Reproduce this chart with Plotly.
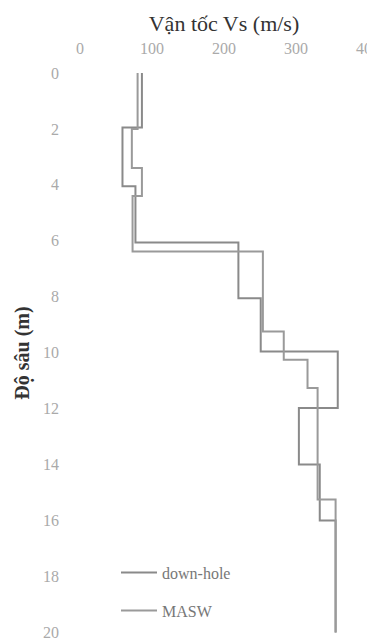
import numpy as np
import plotly.graph_objects as go

# Layer boundaries (depth, m) and shear-wave velocities (m/s)
dh_depth = [0, 1.95, 4.05, 6.06, 8.05, 9.96, 11.98, 14.0, 16.0, 20]
dh_vs = [86, 59, 77, 220, 251, 358, 304, 333, 355]

masw_depth = [0, 2.0, 3.4, 4.4, 6.38, 9.24, 10.25, 11.26, 15.25, 20]
masw_vs = [80, 72, 86, 73, 254, 283, 316, 330, 355]

x_ticks = [0, 100, 200, 300, 400]
y_ticks = [0, 2, 4, 6, 8, 10, 12, 14, 16, 18, 20]


def step_profile(depths, vs):
    x = list(vs) + [vs[-1]]
    y = list(depths[:-1]) + [depths[-1]]
    return x, y


fig = go.Figure()
for name, d, v, col in [("down-hole", dh_depth, dh_vs, "#8a8a8a"),
                        ("MASW", masw_depth, masw_vs, "#9a9a9a")]:
    x, y = step_profile(d, v)
    fig.add_trace(go.Scatter(x=x, y=y, mode="lines", name=name,
                             line=dict(color=col, width=2, shape="vh"),
                             legendgroup=name, cliponaxis=False))

serif = "Liberation Serif"
fig.update_layout(
    width=375, height=641,
    margin=dict(l=72, r=15, t=65, b=16),
    paper_bgcolor="white", plot_bgcolor="white",
    font=dict(family=serif),
    showlegend=True,
    legend=dict(x=0.125, y=0.138, xanchor="left", yanchor="top",
                bgcolor="rgba(0,0,0,0)", font=dict(size=16, color="#777777", family=serif),
                traceorder="grouped", tracegroupgap=14, itemwidth=36),
    xaxis=dict(side="top", range=[0, 400], tickvals=x_ticks, automargin=False,
               showgrid=False, zeroline=False, showline=False,
               tickfont=dict(size=16, color="#aaaaaa", family=serif),
               ticklabelstandoff=15,
               title=dict(text="Vận tốc Vs (m/s)", font=dict(size=22, color="#333333", family=serif),
                          standoff=2)),
    yaxis=dict(range=[20.02, 0], tickvals=y_ticks, automargin=False,
               showgrid=False, zeroline=False, showline=False,
               tickfont=dict(size=16, color="#aaaaaa", family=serif),
               ticklabelstandoff=20,
               title=dict(text="<b>Độ sâu (m)</b>", font=dict(size=20, color="#333333", family=serif),
                          standoff=8)),
)

fig.write_html("out.html")
